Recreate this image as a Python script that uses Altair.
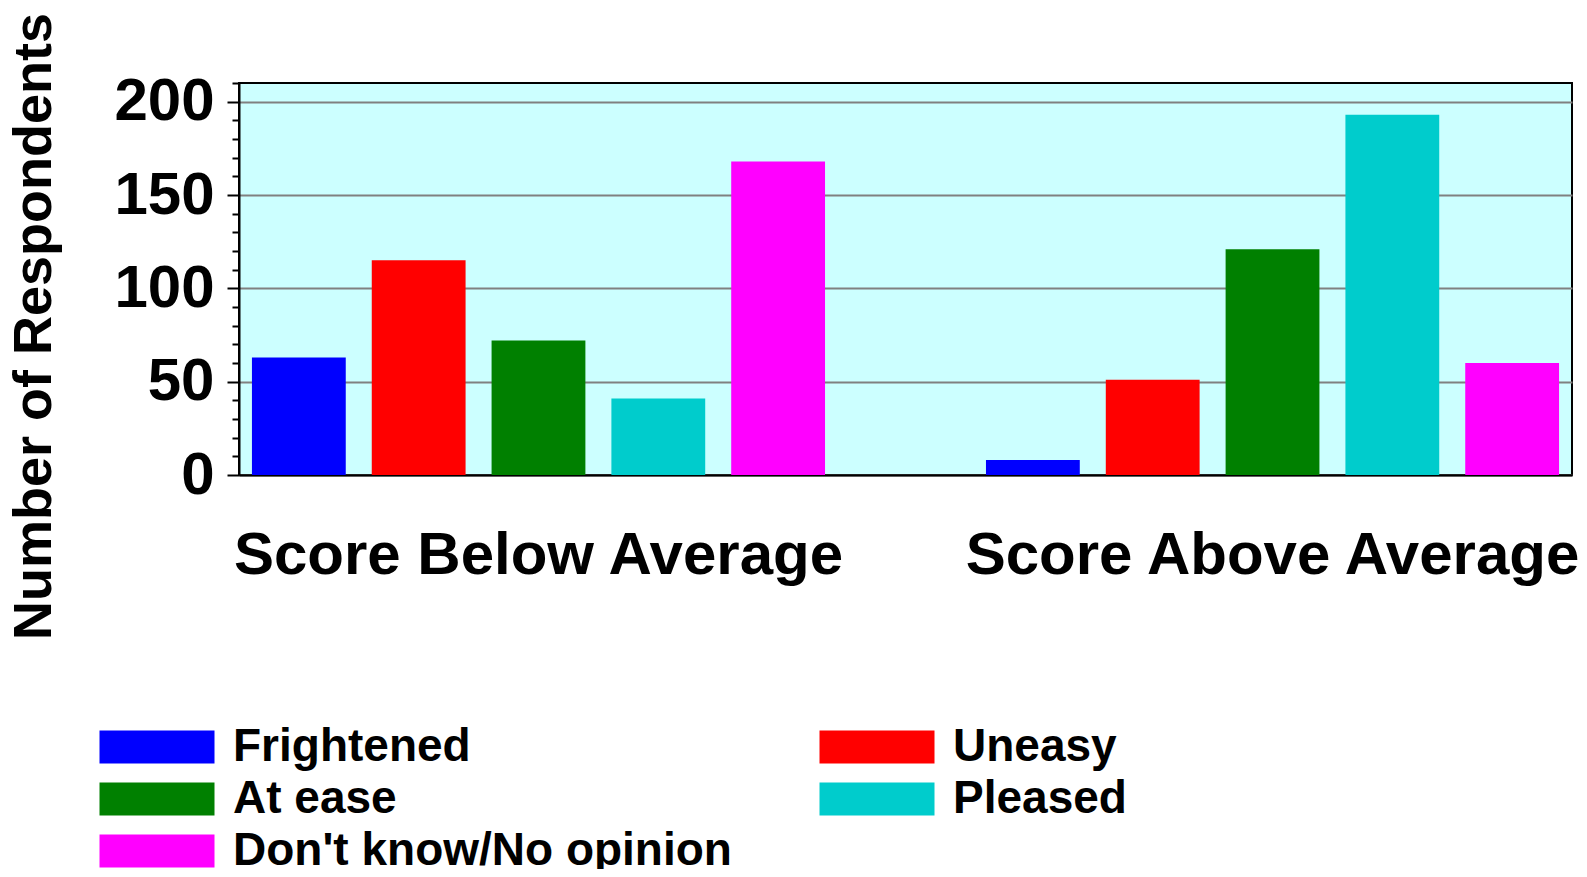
import altair as alt
import pandas as pd

groups = ["Score Below Average", "Score Above Average"]
feelings = ["Frightened", "Uneasy", "At ease", "Pleased", "Don't know/No opinion"]
below = [63, 115, 72, 41, 168]
above = [8, 51, 121, 193, 60]
colors = ["#0000FF", "#FF0000", "#008000", "#00CCCC", "#FF00FF"]
# legend fills its two columns top-to-bottom, so this order gives the reference's rows
legend_order = ["Frightened", "At ease", "Don't know/No opinion", "Uneasy", "Pleased"]
tick_values = list(range(0, 211, 10))

rows = []
for g, vals in zip(groups, [below, above]):
    for f, v in zip(feelings, vals):
        rows.append({"group": g, "feeling": f, "count": v})
df = pd.DataFrame(rows)

color_of = dict(zip(feelings, colors))
legend_colors = [color_of[f] for f in legend_order]

W, H = 1333, 392
FONT = "Liberation Sans"
major = "datum.value % 50 === 0"

x = alt.X(
    "group:N", sort=groups, title=None,
    scale=alt.Scale(paddingInner=0.184, paddingOuter=0),
    axis=alt.Axis(ticks=False, labelPadding=51, labelFontSize=60, labelFont=FONT,
                  labelFontWeight="bold", labelColor="black", labelLimit=1000,
                  labelOverlap=False, labelAngle=0, domainColor="black", domainWidth=2,
                  grid=False),
)

y = alt.Y(
    "count:Q", title="Number of Respondents",
    scale=alt.Scale(domain=[0, 210], nice=False, zero=True),
    axis=alt.Axis(
        values=tick_values,
        labelExpr=f"{major} ? datum.label : ''",
        labelOverlap=False,
        labelFontSize=60, labelFont=FONT, labelFontWeight="bold", labelColor="black",
        labelPadding=13,
        tickSize={"condition": {"test": major, "value": 12}, "value": 7},
        tickColor="black", tickWidth=2,
        grid=True, gridColor="#808080", gridWidth=2,
        gridOpacity={"condition": {"test": major, "value": 1}, "value": 0},
        domainColor="black", domainWidth=2,
        titleFontSize=54, titleFont=FONT, titleFontWeight="bold", titleColor="black",
        titleAngle=270, titleAlign="center", titleBaseline="middle",
        titleX=-205, titleY=243,
    ),
)

# wide rectangle symbol: 115 x 33 px drawn from a 33 px "size" so rows stay compact
color = alt.Color(
    "feeling:N", sort=legend_order,
    scale=alt.Scale(domain=legend_order, range=legend_colors),
    legend=alt.Legend(
        title=None, orient="none", legendX=-146, legendY=641, columns=2,
        columnPadding=81, rowPadding=6, padding=0,
        symbolType="M-3.485,-1H3.485V1H-3.485Z", symbolSize=1089, symbolStrokeWidth=0,
        symbolOffset=41, symbolOpacity=1,
        labelFontSize=46, labelFont=FONT, labelFontWeight="bold", labelColor="black",
        labelOffset=53, labelLimit=1000,
    ),
)

chart = alt.Chart(df).mark_bar(opacity=1).encode(
    x=x,
    xOffset=alt.XOffset("feeling:N", sort=feelings,
                        scale=alt.Scale(paddingInner=0.217, paddingOuter=0.108)),
    y=y,
    color=color,
).properties(
    width=W, height=H,
    autosize=alt.AutoSizeParams(type="none"),
    padding={"left": 231, "top": 75, "right": 7, "bottom": 394},
).configure_view(
    fill="#CCFFFF", stroke="black", strokeWidth=2,
)

chart.save("out.html", embed_options={"renderer": "svg", "actions": False})
